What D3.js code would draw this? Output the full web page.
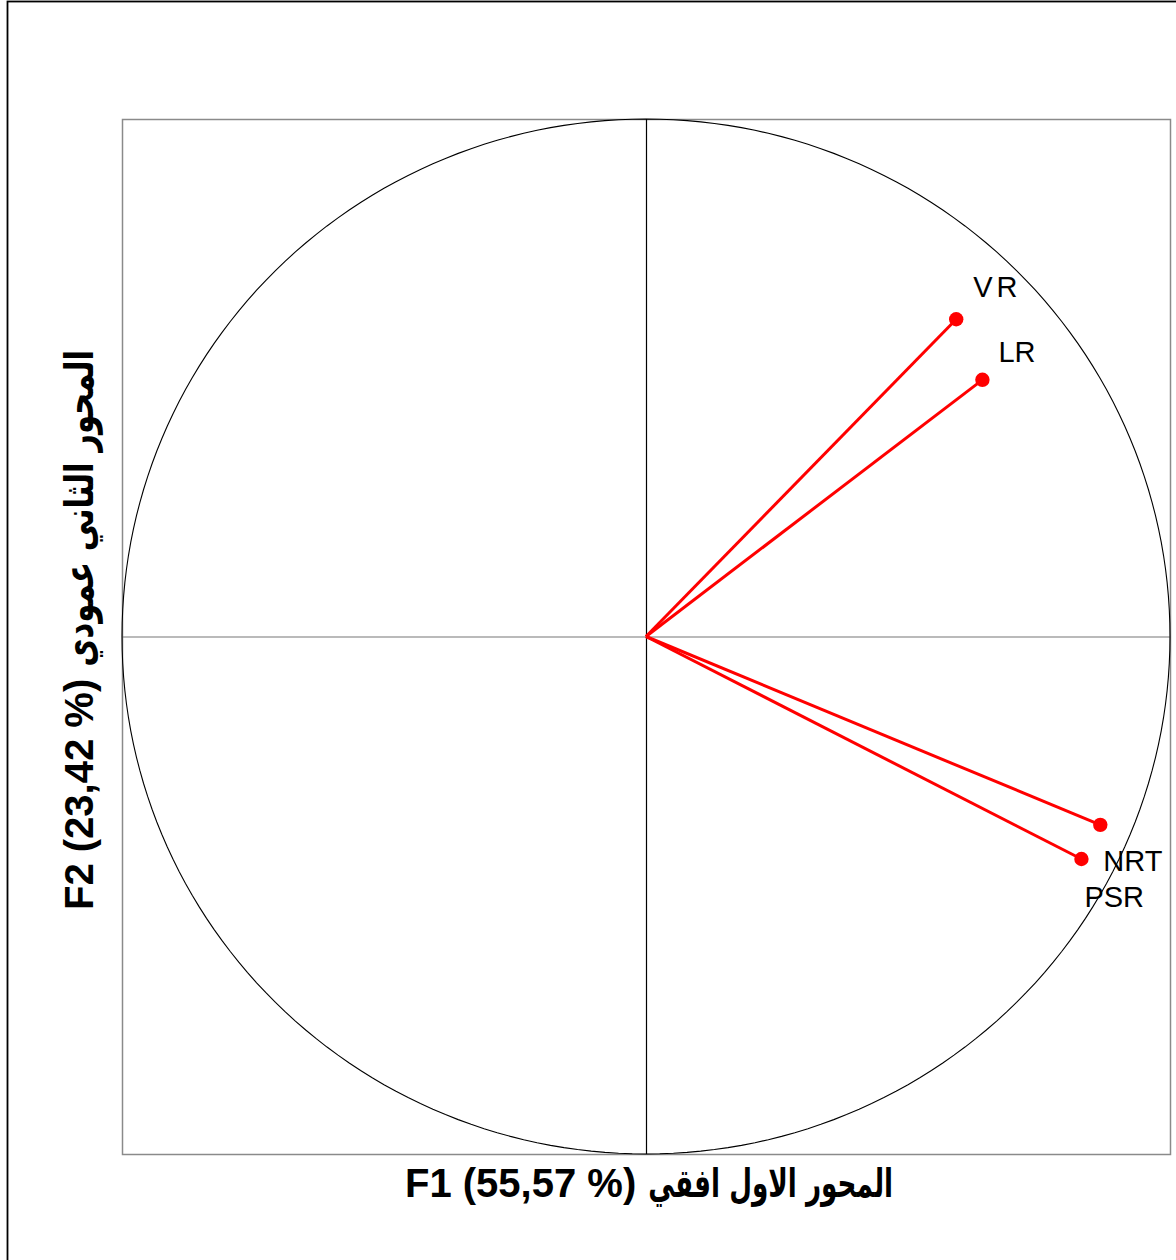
<!DOCTYPE html>
<html>
<head>
<meta charset="utf-8">
<script src="https://cdn.jsdelivr.net/npm/d3@7"></script>
<style>
  html, body { margin: 0; padding: 0; background: #fff; }
  svg { display: block; }
</style>
</head>
<body>
<svg id="chart" width="1176" height="1260"></svg>
<script>
// ---- data ----
const variables = ["VR", "LR", "NRT", "PSR"];
const f1Values = [0.592, 0.642, 0.867, 0.831];
const f2Values = [0.613, 0.496, -0.364, -0.430];
const axisDomain = [-1, 1];
const xTitleLatin = "F1 (55,57 %)";
const xTitleArabic = "المحور الاول افقي";
const yTitleLatin = "F2 (23,42 %)";
const yTitleArabic = "المحور الثاني عمودي";

// label placement (pixels relative to point)
const labelDx = [17, 16, 3, 3];
const labelDy = [-22, -18, 46, 48];
const labelSpacing = [4, 0, 0, 0];

const svg = d3.select("#chart");
const W = 1176, H = 1260;
const plot = { left: 122, top: 119, right: 1170, bottom: 1154 };

const x = d3.scaleLinear().domain(axisDomain).range([plot.left, plot.right]);
const y = d3.scaleLinear().domain(axisDomain).range([plot.bottom, plot.top]);

// outer frame (top & left visible)
svg.append("rect")
  .attr("x", 7.5).attr("y", 1.5)
  .attr("width", W + 20).attr("height", H + 20)
  .attr("fill", "none").attr("stroke", "#000").attr("stroke-width", 1.8);

// plot frame
svg.append("rect")
  .attr("x", plot.left + 0.5).attr("y", plot.top + 0.5)
  .attr("width", plot.right - plot.left).attr("height", plot.bottom - plot.top)
  .attr("fill", "none").attr("stroke", "#8a8a8a").attr("stroke-width", 1.5);

// axes through origin
svg.append("line")
  .attr("x1", x(-1)).attr("x2", x(1))
  .attr("y1", y(0) + 0.5).attr("y2", y(0) + 0.5)
  .attr("stroke", "#777").attr("stroke-width", 1.2);
svg.append("line")
  .attr("x1", x(0) + 0.5).attr("x2", x(0) + 0.5)
  .attr("y1", y(1)).attr("y2", y(-1))
  .attr("stroke", "#000").attr("stroke-width", 1.2);

// correlation circle
const angles = d3.range(0, 361, 1.5).map(a => a * Math.PI / 180);
svg.append("path")
  .datum(angles)
  .attr("d", d3.line().x(a => x(Math.cos(a))).y(a => y(Math.sin(a))))
  .attr("fill", "none").attr("stroke", "#000").attr("stroke-width", 1.1);

// vectors
const data = variables.map((v, i) => ({ name: v, f1: f1Values[i], f2: f2Values[i], dx: labelDx[i], dy: labelDy[i], ls: labelSpacing[i] }));

svg.append("g").selectAll("line").data(data).join("line")
  .attr("x1", x(0)).attr("y1", y(0))
  .attr("x2", d => x(d.f1)).attr("y2", d => y(d.f2))
  .attr("stroke", "#ff0000").attr("stroke-width", 3);

svg.append("g").selectAll("circle").data(data).join("circle")
  .attr("cx", d => x(d.f1)).attr("cy", d => y(d.f2))
  .attr("r", 7.2).attr("fill", "#ff0000");

svg.append("g").selectAll("text").data(data).join("text")
  .attr("x", d => x(d.f1) + d.dx).attr("y", d => y(d.f2) + d.dy)
  .attr("font-family", "Liberation Sans, Arial, sans-serif")
  .attr("font-size", 29)
  .attr("letter-spacing", d => d.ls)
  .attr("fill", "#000")
  .text(d => d.name);

// axis titles: latin part + arabic part (arabic fitted to the reference width)
function title(g, latin, arabic, start, end) {
  const font = "Liberation Sans, DejaVu Sans, sans-serif";
  const lt = g.append("text")
    .attr("x", start).attr("y", 0)
    .attr("font-family", font).attr("font-weight", "bold").attr("font-size", 40)
    .text(latin);
  const lw = lt.node().getComputedTextLength();
  const aStart = start + lw + 12;
  const at = g.append("text")
    .attr("font-family", "DejaVu Sans, sans-serif").attr("font-weight", "bold").attr("font-size", 40)
    .attr("direction", "rtl")
    .attr("text-anchor", "start")
    .text(arabic);
  const aw = at.node().getComputedTextLength();
  const s = (end - aStart) / aw;
  at.attr("transform", `translate(${end},0) scale(${s},1)`).attr("x", 0).attr("y", 0);
}

title(svg.append("g").attr("transform", "translate(0,1197)"), xTitleLatin, xTitleArabic, 405, 893);
title(svg.append("g").attr("transform", "translate(93,0) rotate(-90)"), yTitleLatin, yTitleArabic, -910, -350);
</script>
</body>
</html>
